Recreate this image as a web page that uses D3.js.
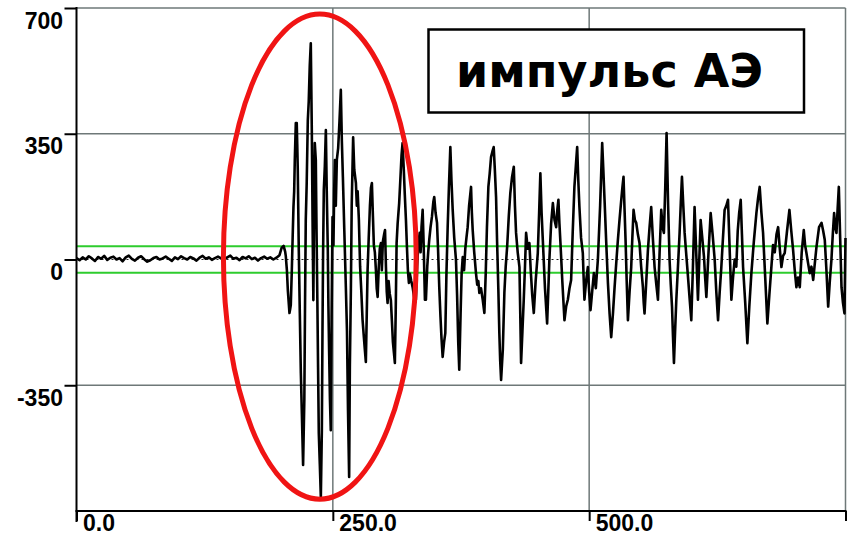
<!DOCTYPE html>
<html>
<head>
<meta charset="utf-8">
<script src="https://cdn.jsdelivr.net/npm/d3@7"></script>
<style>
  html, body { margin: 0; padding: 0; background: #fff; }
  svg { display: block; }
</style>
</head>
<body>
<svg id="chart" width="850" height="535"></svg>
<script>
// Acoustic-emission waveform: quiet baseline, then the burst.
const sampleTimes = [
  0,3,6,9,12,15,18,21,24,27,30,33,36,39,42,45,48,51,54,57,60,63,66,69,72,75,78,81,84,87,
  90,93,96,99,102,105,108,111,114,117,120,123,126,129,132,135,138,141,144,147,150,153,156,159,162,165,168,171,174,177,
  180,183,186,189,192,195,198,200,202,203.5,
  204.1,205.2,206.1,207.7,208.4,209,210,210.8,211.6,212.3,
  212.9,213.9,214.8,215.3,215.8,216.8,217.8,218.8,219.8,221,
  222.2,222.9,223.6,224.5,225.6,226.5,227.5,228.5,229.5,230.2,
  231,231.7,232.4,233.4,234.1,234.9,235.6,236.3,237.3,238.3,
  239.3,239.9,240.5,241.2,242.2,243.2,244,245.1,245.7,246.4,
  247.2,248,248.8,249.7,250.6,251.3,252,252.9,253.9,255.2,
  256.4,257.8,258.8,259.8,261.2,262.7,263.8,264.8,265.9,266.6,
  267.6,268.4,269.8,270.9,272.5,273.4,274.2,275.4,276.6,277.8,
  279,280.1,281.2,282.2,283.1,283.9,285,286.2,287.2,288.1,
  289.1,290,291,292,292.8,293.7,294.8,295.8,296.9,297.8,
  298.8,300,300.9,301.8,302.6,303.4,304.4,305.5,306.6,307.6,
  308.6,309.6,310.5,311.3,312.2,313.2,314.7,315.8,317,318,
  319.2,320.2,321.3,322.2,323.2,324.2,325.2,326.5,327.8,329.3,
  331,332.2,333.3,334.7,335.6,336.5,337.6,338.6,339.8,340.8,
  342.1,343,344,345.3,346.7,348,348.9,350.2,351.6,352.6,
  353.8,355,356,357.1,358.5,359.7,360.8,362,363.2,364.6,
  365.7,366.9,368.4,370.1,371.2,372.3,373.3,374.6,375.6,376.7,
  378,379.2,380.3,381.5,382.9,384.8,385.6,386.4,387.9,389.6,
  390.8,391.9,392.9,394.5,396.2,397.8,399.1,400.3,401.7,403,
  404.3,405.6,406.9,408,409.2,410.2,411.4,412.4,413.2,414.1,
  415.8,417.3,418.6,420,421.6,423.1,424.8,426.5,427.6,428.7,
  430.3,432,432.8,433.6,434.9,436.2,437.4,438.5,440.1,441.7,
  443,444.5,446,447.8,449.9,451.2,452.4,453.6,454.8,456.9,
  459,460.1,461.2,462.9,464.6,466.2,467.8,469,470,471,
  472,473.8,475.9,477.6,479.2,480.8,482.4,484,485.6,487,
  488.3,489.4,490.5,492.1,493.8,494.6,495.4,497,498.7,500,
  501.3,502.9,504.6,506.5,508.5,510.7,512.7,513.8,515,516.6,
  518.3,519.9,521.5,523.2,524.8,526.4,528,529.6,531.3,532.4,
  533.5,534.5,535.5,536.6,537.8,539.4,541,542.1,543.3,544.6,
  545.9,547.5,549.1,550.7,552.4,553.2,554,555.7,557.3,558.9,
  560.5,562.1,563.8,565.5,567.1,568.7,570.3,571.6,572.9,574.2,
  575.5,577,578.4,579.6,580.8,581.7,582.7,583.8,585,586.6,
  588.2,589.4,590.5,591.8,593.1,594.8,596.4,598,599.6,601.2,
  602.8,604.4,606.1,607.4,608.7,610.3,612,613.1,614.3,616.4,
  618.5,620.4,622.4,624,625.7,627.3,628.9,630.5,632.1,633.8,
  635.4,637,638.7,640.3,641.9,643.5,644.9,646.3,647.8,649,
  650.1,652.2,654.3,656.2,658.2,660.6,663.1,664.7,666.3,668,
  669.6,671.7,673.8,675.7,677.7,679.3,681,682.7,684.3,685.9,
  687.5,689.1,690.7,693,695.3,697.1,698.9,700.5,702.1,703.7,
  705.4,707.3,709.3,710.6,711.9,713.5,715.1,716.8,718.5,720.1,
  721.7,724.2,726.6,728.2,729.8,731.4,733.1,734.7,736.3,737.6,
  738.9,740,741.2,742.3,743.5,744.8,746.1,747.5,749,750
];
const sampleValues = [
  4,-2,6,0,9,3,-4,7,2,10,-1,5,8,0,4,-5,6,11,2,-3,5,9,1,-6,-2,4,7,0,3,8,
  2,-4,6,1,9,4,0,7,3,-3,5,10,2,6,-1,4,8,3,0,6,11,2,5,-2,7,3,9,1,5,-3,
  4,8,2,6,0,5,12,32,38,22,
  10,-30,-85,-149,-138,-127,-29,60,146,190,
  277,380,380,320,249,26,-150,-316,-430,-572,
  -391,-120,110,210,388,440,540,602,360,120,
  -113,150,324,277,80,-113,-300,-483,-570,-661,
  -475,-200,20,193,260,360,200,26,-130,-260,
  -390,-475,-160,118,40,190,277,150,277,310,
  380,472,330,230,80,-77,-200,-420,-605,-300,
  -85,150,340,250,213,150,190,110,-20,-90,
  -168,-210,-250,-285,-150,-29,60,150,200,213,
  120,40,20,-29,-80,-104,-20,30,46,-30,
  50,70,82,-20,-90,-121,-60,-95,-113,-170,
  -230,-260,-288,-150,46,100,157,220,290,324,
  250,180,110,40,-30,-65,-40,-60,-77,-105,
  -112,-20,40,74,20,90,138,40,-112,-112,
  -20,20,54,90,120,160,174,130,102,30,
  -77,-160,-220,-271,-230,-205,-40,90,200,313,
  220,138,60,-1,-100,-230,-307,-150,-40,7,
  -30,30,60,90,150,202,130,82,20,-38,
  -70,-60,-93,-80,-112,-149,-40,90,202,240,
  285,300,313,250,174,50,-80,-205,-280,-335,
  -250,-93,-20,35,120,185,230,258,150,74,
  20,-21,-150,-288,-200,-112,-20,74,30,46,
  -30,-100,-149,-60,18,130,240,130,54,-80,
  -178,-90,0,100,157,110,90,140,166,100,
  46,-60,-169,-130,-112,-80,-57,80,202,260,
  313,220,146,60,18,-50,-112,-60,-21,-90,
  -141,-90,-38,-80,0,150,324,250,166,50,
  -65,-150,-216,-150,-77,-10,54,110,166,200,
  230,140,54,-60,-169,-90,-21,60,138,110,
  102,70,46,-20,-77,-120,-150,-60,26,90,
  146,60,-21,-70,-112,20,138,90,74,200,
  352,150,0,-70,-131,-210,-288,-200,-112,-20,
  74,160,230,150,74,10,-49,-110,-169,-20,
  146,20,-112,0,110,60,7,-50,-104,20,
  129,70,0,-90,-169,-90,-21,60,138,150,
  166,30,-112,-50,0,-20,80,130,166,70,
  -21,-120,-233,-130,-38,50,129,170,202,130,
  74,-50,-178,-100,-21,40,20,70,90,30,
  -21,10,18,80,138,80,26,-30,-77,-50,
  -77,20,82,40,18,-10,-38,-20,-57,-10,
  35,90,102,80,54,-30,-131,-60,0,70,
  129,90,74,140,202,60,-77,-120,-150,60
];

// Axis ticks and their printed labels
const yTicks = [700, 350, 0, -350];
const yTickLabels = ["700", "350", "0", "-350"];
const xTicks = [0, 250, 500, 750];
const xTickLabels = ["0.0", "250.0", "500.0", ""];
const yGrid = [700, 350, -350];
const xGrid = [250, 500, 750];
const thresholds = [37, -37];
const title = "импульс АЭ";

const svg = d3.select("#chart");
const x = d3.scaleLinear().domain([0, 750]).range([76.5, 845.5]);
const y = d3.scaleLinear().domain([-700, 700]).range([511, 8]);

const font = "'Liberation Sans', Arial, sans-serif";

// grid
const grid = svg.append("g").attr("stroke", "#6e7878").attr("stroke-width", 1.5);
grid.selectAll("line.h").data(yGrid).join("line").attr("class", "h")
  .attr("x1", x(0)).attr("x2", x(750)).attr("y1", d => y(d)).attr("y2", d => y(d));
grid.selectAll("line.v").data(xGrid).join("line").attr("class", "v")
  .attr("y1", y(700)).attr("y2", y(-700)).attr("x1", d => x(d)).attr("x2", d => x(d));

// detection thresholds
svg.append("g").selectAll("line").data(thresholds).join("line")
  .attr("x1", x(0)).attr("x2", x(750)).attr("y1", d => y(d)).attr("y2", d => y(d))
  .attr("stroke", "#2ecc2e").attr("stroke-width", 2);

// zero reference
svg.append("line").attr("x1", x(0)).attr("x2", x(750)).attr("y1", y(0)).attr("y2", y(0))
  .attr("stroke", "#222").attr("stroke-width", 1.2).attr("stroke-dasharray", "2,3");

// waveform
const line = d3.line().x(i => x(sampleTimes[i])).y(i => y(sampleValues[i]));
svg.append("path").datum(d3.range(Math.min(sampleTimes.length, sampleValues.length))).attr("d", line)
  .attr("fill", "none").attr("stroke", "#000").attr("stroke-width", 2.6)
  .attr("stroke-linejoin", "round");

// axes
const yAxis = d3.axisLeft(y).tickValues(yTicks).tickSize(12).tickSizeOuter(0)
  .tickFormat((d, i) => yTickLabels[i]);
const gy = svg.append("g").attr("transform", `translate(${x(0)},0)`).call(yAxis);
gy.select(".domain").remove();
gy.selectAll(".tick line").attr("stroke", "#000").attr("stroke-width", 2);
gy.selectAll(".tick text").attr("x", -13.5).attr("dy", null).attr("y", 20)
  .attr("font-family", font).attr("font-weight", "bold").attr("font-size", 23).attr("fill", "#000");

const xAxis = d3.axisBottom(x).tickValues(xTicks).tickSize(10).tickSizeOuter(0)
  .tickFormat((d, i) => xTickLabels[i]);
const gx = svg.append("g").attr("transform", `translate(0,${y(-700)})`).call(xAxis);
gx.select(".domain").remove();
gx.selectAll(".tick line").attr("stroke", "#000").attr("stroke-width", 2);
gx.selectAll(".tick text").attr("text-anchor", "start").attr("x", 6).attr("dy", null).attr("y", 20)
  .attr("font-family", font).attr("font-weight", "bold").attr("font-size", 23).attr("fill", "#000");

svg.append("line").attr("x1", x(0)).attr("x2", x(0)).attr("y1", y(700) - 1).attr("y2", y(-700) + 11)
  .attr("stroke", "#000").attr("stroke-width", 2);
svg.append("line").attr("x1", x(0) - 1).attr("x2", x(750) + 1).attr("y1", y(-700)).attr("y2", y(-700))
  .attr("stroke", "#000").attr("stroke-width", 2);

// highlight around the burst onset
const ecx = 237.3, ecy = 8, erx = 94, ery = 675;
svg.append("ellipse")
  .attr("cx", x(ecx)).attr("cy", y(ecy))
  .attr("rx", x(ecx + erx) - x(ecx)).attr("ry", y(ecy - ery) - y(ecy))
  .attr("fill", "none").attr("stroke", "#f01414").attr("stroke-width", 5);

// caption box
const box = svg.append("g");
box.append("rect").attr("x", 428.5).attr("y", 29.5).attr("width", 375.5).attr("height", 83)
  .attr("fill", "#fff").attr("stroke", "#000").attr("stroke-width", 2.5);
box.append("text").attr("x", 456).attr("y", 86.5).text(title)
  .attr("font-family", "'DejaVu Sans', sans-serif").attr("font-weight", "bold").attr("font-size", 46)
  .attr("fill", "#000");
</script>
</body>
</html>
